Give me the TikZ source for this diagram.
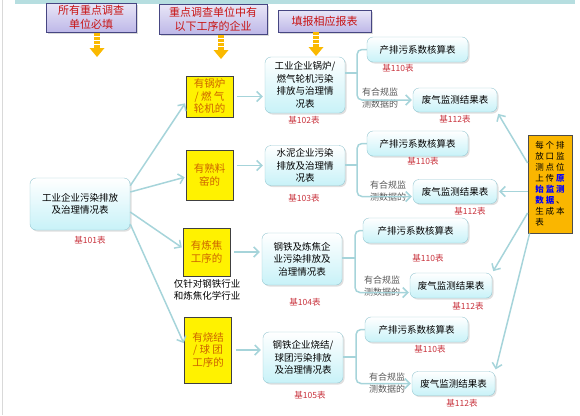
\documentclass[tikz,border=0pt]{standalone}
\usepackage{fontspec}
\setmainfont{Noto Sans CJK SC}
\usetikzlibrary{arrows.meta,shadows}
\definecolor{lnblue}{RGB}{166,212,218}
\definecolor{boxedge}{RGB}{150,200,210}
\definecolor{boxfill}{RGB}{200,242,248}
\definecolor{hdfill}{RGB}{190,184,232}
\definecolor{hdedge}{RGB}{70,70,130}
\definecolor{hdtext}{RGB}{200,20,20}
\definecolor{ylwtext}{RGB}{205,100,0}
\definecolor{gold}{RGB}{250,185,0}
\definecolor{orgfill}{RGB}{250,182,0}
\definecolor{tagred}{RGB}{200,50,60}
\definecolor{bandcyan}{RGB}{182,222,224}
\newcommand\bluebf[1]{{\color{blue}\bfseries #1}}

\begin{document}
\begin{tikzpicture}[x=1pt, y=-1pt, >={Straight Barb[length=5pt,width=10pt]},
	hdr/.style={draw=hdedge, line width=0.8pt, top color=hdfill!35, bottom color=hdfill, text=hdtext, align=center, inner sep=1pt, font=\fontsize{11}{14}\selectfont, drop shadow={opacity=0.3, shadow xshift=1.5pt, shadow yshift=-1.5pt}},
	tbl/.style={draw=boxedge, rounded corners=6pt, top color=white, bottom color=boxfill, align=center, inner sep=2pt, font=\fontsize{9.5}{12.5}\selectfont, drop shadow={opacity=0.25, shadow xshift=1.5pt, shadow yshift=-1.5pt}},
	ylw/.style={draw=black!75, line width=0.8pt, fill=yellow, text=ylwtext, align=center, inner sep=1pt, minimum width=47, font=\fontsize{10.5}{12.5}\selectfont},
	tag/.style={text=tagred, font=\fontsize{8.5}{9}\selectfont},
	cond/.style={text=black!65, align=center, font=\fontsize{9}{12}\selectfont},
	ln/.style={draw=lnblue, line width=1.5pt},
	goldshaft/.style={draw=gold, line width=6pt, dash pattern=on 3pt off 1pt}]
	\useasboundingbox (0,0) rectangle (580,415);
	\fill[bandcyan] (15,0) rectangle (575,4);
	\draw[black!15, line width=1pt] (2,0) -- (2,415);
	\node[hdr, minimum width=90, minimum height=29] (h1) at (91,17.5) {所有重点调查\\单位必填};
	\node[hdr, minimum width=108, minimum height=30] (h2) at (213,19) {重点调查单位中有\\以下工序的企业};
	\node[hdr, minimum width=93, minimum height=22] (h3) at (324.5,21) {填报相应报表};
	\coordinate (a1) at (97,33);
	\coordinate (a2) at (221,35);
	\coordinate (a3) at (316,32);
	\foreach \c in {a1,a2,a3} {\draw[goldshaft] (\c) -- ++(0,15); \fill[gold] (\c) ++(-7.5,15) -- ++(15,0) -- ++(-7.5,9) -- cycle;}
	\node[tbl, minimum width=100, minimum height=52] (main) at (80,204) {工业企业污染排放\\及治理情况表};
	\node[tag] (t101) at (90,240) {基101表};
	\node[ylw, minimum height=41] (y1) at (209.5,96.5) {有锅炉\\/ 燃 气\\轮机的};
	\node[ylw, minimum height=50] (y2) at (209.5,175) {有熟料\\窑的};
	\node[ylw, minimum height=48] (y3) at (206.5,252) {有炼焦\\工序的};
	\node[font=\fontsize{9.5}{12}\selectfont, align=center] (note) at (207,290) {仅针对钢铁行业\\和炼焦化学行业};
	\node[ylw, minimum height=66] (y4) at (208,350) {有烧结\\/ 球 团\\工序的};
	\node[tbl, minimum width=80, minimum height=56] (m1) at (305,85) {工业企业锅炉/\\燃气轮机污染\\排放与治理情\\况表};
	\node[tbl, minimum width=80, minimum height=40] (m2) at (305,165.5) {水泥企业污染\\排放及治理情\\况表};
	\node[tbl, minimum width=80, minimum height=52] (m3) at (302,259) {钢铁及炼焦企\\业污染排放及\\治理情况表};
	\node[tbl, minimum width=80, minimum height=51] (m4) at (303,357.5) {钢铁企业烧结/\\球团污染排放\\及治理情况表};
	\node[tag] (t102) at (304,120) {基102表};
	\node[tag] (t103) at (304,198) {基103表};
	\node[tag] (t104) at (305,302) {基104表};
	\node[tag] (t105) at (310,395) {基105表};
	\node[tbl, minimum width=101, minimum height=25] (r1a) at (417.5,49.5) {产排污系数核算表};
	\node[tbl, minimum width=84, minimum height=24] (r1b) at (455,100) {废气监测结果表};
	\node[tbl, minimum width=101, minimum height=25] (r2a) at (417.5,143.5) {产排污系数核算表};
	\node[tbl, minimum width=84, minimum height=24] (r2b) at (455,191.5) {废气监测结果表};
	\node[tbl, minimum width=105, minimum height=25] (r3a) at (415.5,230.5) {产排污系数核算表};
	\node[tbl, minimum width=82, minimum height=25] (r3b) at (451,285.5) {废气监测结果表};
	\node[tbl, minimum width=103, minimum height=25] (r4a) at (416.5,329.5) {产排污系数核算表};
	\node[tbl, minimum width=83, minimum height=24] (r4b) at (453.5,383.5) {废气监测结果表};
	\node[tag] (t110a) at (398,68) {基110表};
	\node[tag] (t112a) at (455,119) {基112表};
	\node[tag] (t110b) at (423,161) {基110表};
	\node[tag] (t112b) at (470,211) {基112表};
	\node[tag] (t110c) at (428,258) {基110表};
	\node[tag] (t112c) at (468,306) {基112表};
	\node[tag] (t110d) at (430,349) {基110表};
	\node[tag] (t112d) at (462,403) {基112表};
	\node[cond] (c1) at (380,98) {有合规监\\测数据的};
	\node[cond] (c2) at (388,191) {有合规监\\测数据的};
	\node[cond] (c3) at (382,286) {有合规监\\测数据的};
	\node[cond] (c4) at (387,383) {有合规监\\测数据的};
	\node[draw=black!70, line width=0.8pt, fill=orgfill, minimum width=44, minimum height=98, inner sep=3pt, align=left, font=\fontsize{8.5}{11}\selectfont] (src) at (550,184) {每 个 排\\放 口 监\\测 点 位\\上 传 \bluebf{原}\\\bluebf{始 监 测}\\\bluebf{数 据} 、\\生 成 本\\表};
	\draw[ln, ->, shorten >=1pt] (main.20) -- ([yshift=-6pt]y1.west);
	\draw[ln, ->, shorten >=1pt] ([yshift=12pt]main.east) -- ([yshift=-2pt]y2.west);
	\draw[ln, ->, shorten >=1pt] ([yshift=-8pt]main.east) -- ([yshift=4pt]y3.west);
	\draw[ln, ->, shorten >=1pt] ([yshift=-20pt]main.east) -- ([yshift=6pt]y4.west);
	\draw[ln, ->, shorten <=4pt, shorten >=2pt] (y1.east) -- (y1.east -| m1.west);
	\draw[ln, ->, shorten <=4pt, shorten >=2pt] (m2.west -| y2.east) -- (m2.west);
	\draw[ln, ->, shorten <=4pt, shorten >=2pt] (y3.east) -- (y3.east -| m3.west);
	\draw[ln, ->, shorten <=4pt, shorten >=2pt] (y4.east) -- (y4.east -| m4.west);
	\coordinate (j1) at (357,73);
	\coordinate (j2) at (357,165);
	\coordinate (j3) at (355,258);
	\coordinate (j4) at (356,357);
	\draw[ln] (m1.east |- j1) -- (j1);
	\draw[ln] (m2.east |- j2) -- (j2);
	\draw[ln] (m3.east |- j3) -- (j3);
	\draw[ln] (m4.east |- j4) -- (j4);
	\draw[ln, rounded corners=5pt] (j1) |- (r1a.west);
	\draw[ln, rounded corners=5pt] (j2) |- (r2a.west);
	\draw[ln, rounded corners=5pt] (j3) |- (r3a.west);
	\draw[ln, rounded corners=5pt] (j4) |- (r4a.west);
	\draw[ln, ->, rounded corners=5pt, shorten >=1pt] (j1) |- (r1b.west);
	\draw[ln, ->, rounded corners=5pt, shorten >=1pt] (j2) |- ([yshift=-5pt]r2b.west);
	\draw[ln, ->, rounded corners=5pt, shorten >=1pt] (j3) |- ([yshift=-7pt]r3b.west);
	\draw[ln, ->, rounded corners=5pt, shorten >=1pt] (j4) |- (r4b.west);
	\draw[ln, ->, shorten >=2pt] ([yshift=21pt]src.west) -- (r1b.south east);
	\draw[ln, ->, shorten >=2pt] (src.west |- r2b.east) -- (r2b.east);
	\draw[ln, ->, shorten >=2pt] ([yshift=-29pt]src.west) -- (r3b.north east);
	\draw[ln, ->, shorten >=2pt] ([xshift=2pt]src.south west) -- (r4b.north east);
\end{tikzpicture}
\end{document}
